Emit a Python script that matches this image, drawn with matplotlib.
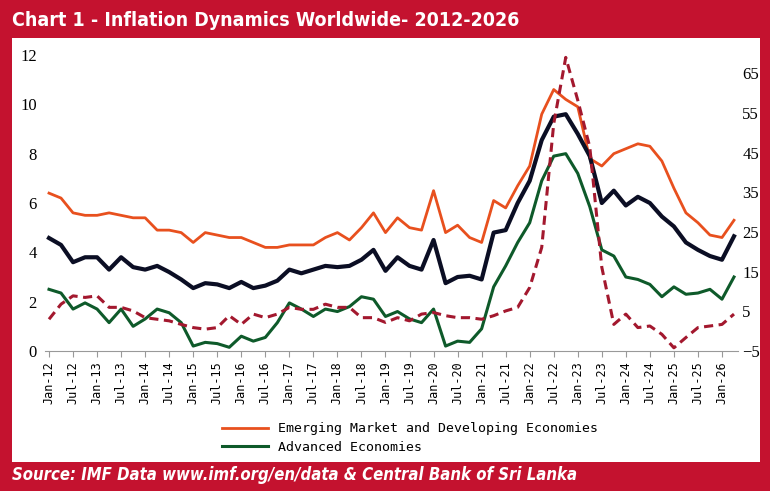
import numpy as np
import matplotlib.pyplot as plt
from matplotlib.patches import Rectangle

# quarterly observations, Jan-2012 .. Apr-2026 (month index from Jan-12)
months = list(range(0, 172, 3))

emde = [6.4, 6.2, 5.6, 5.5, 5.5, 5.6, 5.5, 5.4, 5.4, 4.9, 4.9, 4.8,
        4.4, 4.8, 4.7, 4.6, 4.6, 4.4, 4.2, 4.2, 4.3, 4.3, 4.3, 4.6,
        4.8, 4.5, 5.0, 5.6, 4.8, 5.4, 5.0, 4.9, 6.5, 4.8, 5.1, 4.6,
        4.4, 6.1, 5.8, 6.7, 7.5, 9.6, 10.6, 10.2, 9.9, 7.8, 7.5, 8.0,
        8.2, 8.4, 8.3, 7.7, 6.6, 5.6, 5.2, 4.7, 4.6, 5.3]
world = [4.58, 4.3, 3.6, 3.8, 3.8, 3.3, 3.8, 3.4, 3.3, 3.45, 3.2, 2.9,
         2.55, 2.75, 2.7, 2.55, 2.8, 2.55, 2.65, 2.85, 3.3, 3.15, 3.3, 3.45,
         3.4, 3.45, 3.7, 4.1, 3.25, 3.8, 3.45, 3.3, 4.5, 2.75, 3.0, 3.05,
         2.9, 4.8, 4.9, 6.0, 6.9, 8.55, 9.5, 9.6, 8.8, 7.9, 6.0, 6.5,
         5.9, 6.25, 6.0, 5.45, 5.05, 4.4, 4.1, 3.85, 3.7, 4.65]
advanced = [2.5, 2.35, 1.7, 1.95, 1.7, 1.15, 1.7, 1.0, 1.3, 1.7, 1.55, 1.15,
            0.2, 0.35, 0.3, 0.15, 0.6, 0.4, 0.55, 1.15, 1.95, 1.7, 1.4, 1.7,
            1.6, 1.8, 2.2, 2.1, 1.4, 1.6, 1.3, 1.15, 1.7, 0.2, 0.4, 0.35,
            0.9, 2.6, 3.45, 4.4, 5.2, 6.9, 7.9, 8.0, 7.2, 5.85, 4.1, 3.85,
            3.0, 2.9, 2.7, 2.2, 2.6, 2.3, 2.35, 2.5, 2.1, 3.0]
dashed = [3.0, 6.8, 8.9, 8.5, 8.9, 6.0, 6.0, 5.1, 3.4, 3.0, 2.6, 1.7,
          0.9, 0.5, 0.9, 3.9, 1.7, 4.3, 3.4, 4.3, 6.0, 5.5, 5.5, 6.8,
          6.0, 6.0, 3.4, 3.4, 2.2, 3.4, 2.6, 4.3, 4.7, 3.9, 3.4, 3.4,
          3.0, 3.9, 5.1, 6.0, 11.0, 21.1, 52.3, 69.0, 58.2, 46.4, 16.1, 1.7,
          4.3, 0.9, 1.3, -0.8, -4.2, -1.6, 0.9, 1.3, 1.7, 4.3]

tick_months = list(range(0, 169, 6))
tick_labels = []
for m in tick_months:
    yr = 12 + m // 12
    tick_labels.append(("Jan-" if m % 12 == 0 else "Jul-") + str(yr))

red = "#C4122F"
fig = plt.figure(figsize=(7.7, 4.91), dpi=100)
fig.patch.set_facecolor(red)
fig.add_artist(Rectangle((12 / 770, 1 - 462 / 491), 748 / 770, 424 / 491,
                         transform=fig.transFigure, facecolor="white",
                         edgecolor="none", zorder=0))

fig.text(12 / 770, 1 - 20 / 491, "Chart 1 - Inflation Dynamics Worldwide- 2012-2026",
         color="white", fontsize=14, fontweight="bold", va="center",
         family="DejaVu Sans", fontstretch="condensed")
fig.text(12 / 770, 1 - 475 / 491, "Source: IMF Data www.imf.org/en/data & Central Bank of Sri Lanka",
         color="white", fontsize=12, fontweight="bold", style="italic", va="center",
         family="DejaVu Sans", fontstretch="condensed")

ax = fig.add_axes([45 / 770, 1 - 351 / 491, 693 / 770, 296 / 491])
ax.set_facecolor("none")
ax2 = ax.twinx()

l1, = ax.plot(months, emde, color="#E8501E", lw=2.0, label="Emerging Market and Developing Economies")
ax.plot(months, world, color="#0B0E24", lw=3.0)
l2, = ax.plot(months, advanced, color="#0E5A2A", lw=2.2, label="Advanced Economies")
ax2.plot(months, dashed, color="#A3182E", lw=2.2, ls=(0, (3, 1.8)))

ax.set_xlim(-1, 172)
ax.set_ylim(0, 12)
ax2.set_ylim(-5, 69.6)
ax.set_yticks([0, 2, 4, 6, 8, 10, 12])
ax2.set_yticks([-5, 5, 15, 25, 35, 45, 55, 65])
ax.set_xticks(tick_months)
ax.set_xticklabels(tick_labels, rotation=90, family="DejaVu Sans Mono", fontsize=8.5)
for a in (ax, ax2):
    for s in a.spines.values():
        s.set_visible(False)
    a.tick_params(axis="y", length=0, labelsize=12, pad=6)
    for t in a.get_yticklabels():
        t.set_family("Liberation Serif")
ax2.tick_params(axis="y", pad=3)
ax.spines["bottom"].set_visible(True)
ax.spines["bottom"].set_color("#999999")
ax.tick_params(axis="x", length=4, color="#999999")

fig.legend(handles=[l1, l2], loc="center", bbox_to_anchor=(410 / 770, 1 - 438 / 491),
           frameon=False, prop={"family": "DejaVu Sans Mono", "size": 9.5},
           handlelength=3.5, labelspacing=0.4)

fig.savefig("out.png", dpi=100)
